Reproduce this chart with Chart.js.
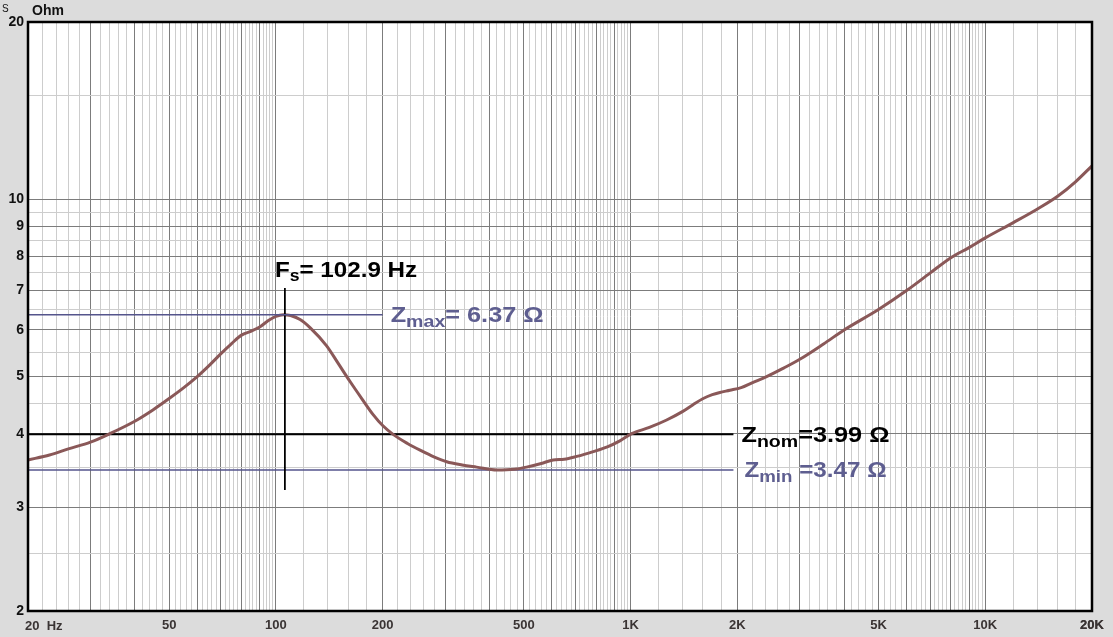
<!DOCTYPE html>
<html>
<head>
<meta charset="utf-8">
<script src="https://cdn.jsdelivr.net/npm/chart.js@4/dist/chart.umd.min.js"></script>
<style>
  html, body { margin: 0; padding: 0; background: #dcdcdc; }
  #wrap { position: relative; width: 1113px; height: 637px; }
</style>
</head>
<body>
<div id="wrap"><canvas id="chartCanvas"></canvas></div>
<script>
// impedance curve
const freqs = [20, 23, 26, 30, 34, 40, 45, 50, 55, 60, 65, 70, 75, 80, 85, 90, 95, 100, 105,
  110, 117, 125, 139, 150, 162, 175, 188, 200, 214, 235, 255, 280, 303, 335, 368, 420, 470, 509,
  560, 605, 650, 705, 785, 860, 933, 1007, 1130, 1264, 1400, 1500, 1603, 1700, 1786, 1906, 2050,
  2200, 2418, 2700, 3000, 3500, 4000, 5000, 6000, 7000, 8000, 9000, 10000, 12000, 14000,
  16000, 18000, 20000];
const ohms = [3.61, 3.68, 3.77, 3.87, 4.00, 4.20, 4.39, 4.59, 4.79, 5.00, 5.23, 5.47, 5.69, 5.88, 5.97, 6.07, 6.22, 6.33, 6.37,
  6.35, 6.25, 6.05, 5.64, 5.26, 4.90, 4.58, 4.31, 4.13, 3.99, 3.85, 3.75, 3.65, 3.585, 3.54, 3.51, 3.47, 3.48, 3.51,
  3.56, 3.61, 3.62, 3.66, 3.73, 3.80, 3.89, 4.00, 4.10, 4.22, 4.36, 4.48, 4.59, 4.66, 4.70, 4.74, 4.79,
  4.88, 5.00, 5.17, 5.35, 5.68, 6.00, 6.50, 7.00, 7.50, 7.96, 8.28, 8.60, 9.13, 9.62,
  10.12, 10.72, 11.40];

// markers (Fs line sits where the picture draws it)
const fsLineFreq = 106;
const fsRange = [3.21, 7.07];
const zMax = 6.37, zNom = 3.99, zMin = 3.47;
const zMaxLineEnd = 200;
const zLineEnd = 1950;

// axes
const xLabelVals = [20, 50, 100, 200, 500, 1000, 2000, 5000, 10000, 20000];
const xLabelText = ['', '50', '100', '200', '500', '1K', '2K', '5K', '10K', '20K'];
const yMajor = [2, 3, 4, 5, 6, 7, 8, 9, 10, 20];
const yMinor = [2.5, 3.5, 4.5, 5.5, 6.5, 7.5, 8.5, 9.5, 15];

// x grid: dark on 1..9 x decade, light every 0.2 step
const xGrid = [];
[10, 100, 1000, 10000].forEach(d => {
  for (let m = 10; m < 100; m += 2) {
    const v = m * d / 10;
    if (v >= 20 && v <= 20000) xGrid.push({ value: v, major: m % 10 === 0 });
  }
});
xGrid.push({ value: 20000, major: true });
const yGrid = yMajor.map(v => ({ value: v, major: true }))
  .concat(yMinor.map(v => ({ value: v, major: false })))
  .sort((a, b) => a.value - b.value);

const FONT = '"Liberation Sans", Arial, sans-serif';
const BLUE = '#55558c';
const BLUE_TXT = '#5e5e90';

// text with subscripts, slightly stretched like the original
function drawParts(ctx, x, y, parts, color, sx) {
  ctx.save();
  ctx.translate(x, y);
  ctx.scale(sx, 1);
  ctx.fillStyle = color;
  ctx.textBaseline = 'alphabetic';
  ctx.textAlign = 'left';
  let cx = 0;
  parts.forEach(p => {
    ctx.font = 'bold ' + p.size + 'px ' + FONT;
    ctx.fillText(p.t, cx, p.dy || 0);
    cx += ctx.measureText(p.t).width;
  });
  ctx.restore();
}

const decor = {
  id: 'decor',
  beforeDraw(chart) {
    const { ctx, chartArea: a } = chart;
    ctx.save();
    ctx.fillStyle = '#ffffff';
    ctx.fillRect(a.left, a.top, a.right - a.left, a.bottom - a.top);
    ctx.restore();
  },
  afterDraw(chart) {
    const { ctx, chartArea: a, scales } = chart;
    const xs = scales.x, ys = scales.y;
    ctx.save();
    // frame
    ctx.strokeStyle = '#000';
    ctx.lineWidth = 2.5;
    ctx.strokeRect(a.left, a.top, a.right - a.left, a.bottom - a.top);

    // corner texts
    ctx.fillStyle = '#111';
    ctx.font = '10px ' + FONT;
    ctx.textBaseline = 'alphabetic';
    ctx.fillText('S', 2, 12);
    ctx.font = 'bold 14px ' + FONT;
    ctx.fillText('Ohm', 32, 15);
    ctx.fillStyle = '#3a3434';
    ctx.font = 'bold 13px ' + FONT;
    ctx.fillText('20  Hz', xs.getPixelForValue(20) - 3, 630);

    // marker labels
    const fx = xs.getPixelForValue(fsLineFreq) - 10;
    const fy = ys.getPixelForValue(fsRange[1]) - 11;
    drawParts(ctx, fx, fy, [{ t: 'F', size: 22 }, { t: 's', size: 16, dy: 4 }, { t: '= 102.9 Hz', size: 22 }], '#000', 1.1);

    const mx = xs.getPixelForValue(zMaxLineEnd) + 8;
    drawParts(ctx, mx, ys.getPixelForValue(zMax) + 7,
      [{ t: 'Z', size: 22 }, { t: 'max', size: 17, dy: 5 }, { t: '= 6.37 Ω', size: 22 }], BLUE_TXT, 1.15);

    const nx = xs.getPixelForValue(zLineEnd) + 8;
    drawParts(ctx, nx, ys.getPixelForValue(zNom) + 8,
      [{ t: 'Z', size: 22 }, { t: 'nom', size: 17, dy: 5 }, { t: '=3.99 Ω', size: 22 }], '#000', 1.15);
    drawParts(ctx, nx + 3, ys.getPixelForValue(zMin) + 7,
      [{ t: 'Z', size: 22 }, { t: 'min', size: 17, dy: 5 }, { t: ' =3.47 Ω', size: 22 }], BLUE_TXT, 1.1);
    ctx.restore();
  }
};

const curve = freqs.map((f, i) => ({ x: f, y: ohms[i] }));

new Chart(document.getElementById('chartCanvas').getContext('2d'), {
  type: 'line',
  data: {
    datasets: [
      {
        data: curve,
        borderColor: '#8a5858',
        borderWidth: 3,
        pointRadius: 0,
        cubicInterpolationMode: 'monotone',
        order: 2
      },
      {
        data: [{ x: 20, y: zMax }, { x: zMaxLineEnd, y: zMax }],
        borderColor: BLUE, borderWidth: 1.5, pointRadius: 0, order: 1
      },
      {
        data: [{ x: 20, y: zNom }, { x: zLineEnd, y: zNom }],
        borderColor: '#000', borderWidth: 2, pointRadius: 0, order: 3
      },
      {
        data: [{ x: 20, y: zMin }, { x: zLineEnd, y: zMin }],
        borderColor: BLUE, borderWidth: 1.5, pointRadius: 0, order: 3
      },
      {
        data: [{ x: fsLineFreq, y: fsRange[0] }, { x: fsLineFreq, y: fsRange[1] }],
        borderColor: '#000', borderWidth: 1.8, pointRadius: 0, order: 1
      }
    ]
  },
  options: {
    responsive: true,
    maintainAspectRatio: false,
    animation: false,
    events: [],
    layout: { padding: { top: 22, right: 21, left: 0, bottom: 0 } },
    plugins: { legend: { display: false }, tooltip: { enabled: false } },
    scales: {
      x: {
        type: 'logarithmic',
        min: 20,
        max: 20000,
        afterBuildTicks: s => { s.ticks = xGrid.map(t => ({ value: t.value, major: t.major })); },
        afterFit: s => { s.height = 26; },
        border: { display: false },
        grid: {
          drawTicks: false,
          color: c => (c.tick && xGrid[c.index] && xGrid[c.index].major) ? '#7c7c7c' : '#cdcdcd',
          lineWidth: 1
        },
        ticks: {
          autoSkip: false,
          maxRotation: 0,
          padding: 7,
          color: '#3a3434',
          font: { family: FONT, size: 13, weight: 'bold' },
          callback: v => {
            const i = xLabelVals.indexOf(v);
            return i >= 0 ? xLabelText[i] : '';
          }
        }
      },
      y: {
        type: 'logarithmic',
        min: 2,
        max: 20,
        afterBuildTicks: s => { s.ticks = yGrid.map(t => ({ value: t.value, major: t.major })); },
        afterFit: s => { s.width = 28; },
        border: { display: false },
        grid: {
          drawTicks: false,
          color: c => (c.tick && yGrid[c.index] && yGrid[c.index].major) ? '#7c7c7c' : '#cdcdcd',
          lineWidth: 1
        },
        ticks: {
          autoSkip: false,
          padding: 4,
          color: '#111',
          font: { family: FONT, size: 14, weight: 'bold' },
          callback: v => yMajor.includes(v) ? String(v) : ''
        }
      }
    }
  },
  plugins: [decor]
});
</script>
</body>
</html>
